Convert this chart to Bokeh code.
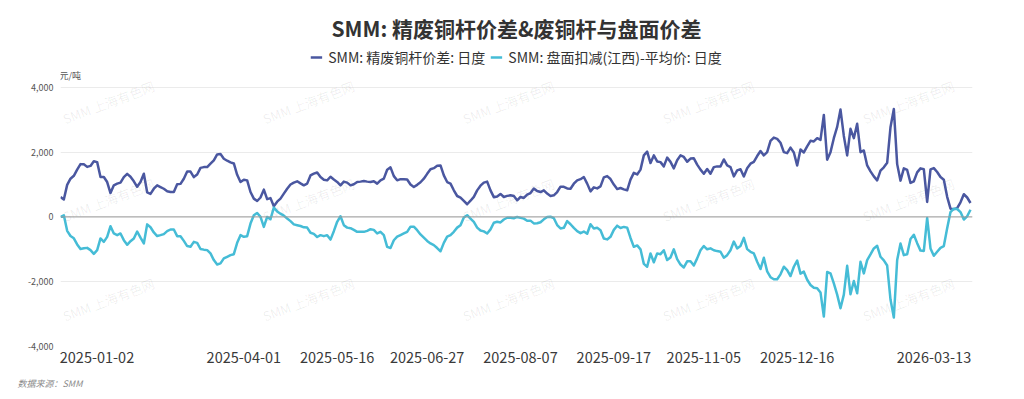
from bokeh.plotting import figure
from bokeh.models import (ColumnDataSource, Range1d, FixedTicker, NumeralTickFormatter,
                          Span, Title, Label, Legend, LegendItem)
from bokeh.embed import file_html
from bokeh.resources import INLINE
from bokeh.core.properties import value

# ---------------- data ----------------
title_text = "SMM: 精废铜杆价差&废铜杆与盘面价差"
name1 = "SMM: 精废铜杆价差: 日度"
name2 = "SMM: 盘面扣减(江西)-平均价: 日度"
unit_text = "元/吨"
source_text = "数据来源：SMM"

tick_labels = ["2025-01-02", "2025-04-01", "2025-05-16", "2025-06-27", "2025-08-07",
               "2025-09-17", "2025-11-05", "2025-12-16", "2026-03-13"]
tick_index = [0, 55, 83, 110, 138, 166, 193, 221, 273]
y_ticks = [-4000, -2000, 0, 2000, 4000]

s1 = [
    615, 540, 990, 1180, 1270, 1460, 1630, 1625, 1545, 1575,
    1720, 1692, 1231, 1231, 1077, 738, 975, 1028, 1058, 1231,
    1330, 1240, 1100, 930, 1080, 1335, 760, 710, 870, 975,
    923, 870, 795, 769, 769, 1006, 1020, 1180, 1400, 1400,
    1230, 1310, 1515, 1538, 1538, 1643, 1745, 1930, 1940, 1795,
    1735, 1685, 1650, 1300, 1077, 1150, 1129, 769, 565, 492,
    600, 843, 550, 580, 330, 470, 565, 720, 870, 1000,
    1060, 1100, 1035, 975, 1028, 1280, 1335, 1370, 1231, 1150,
    1129, 1240, 1155, 1080, 975, 1090, 1060, 975, 1010, 1077,
    1090, 1108, 1090, 1077, 1100, 1028, 1129, 1181, 1458, 1530,
    1260, 1130, 1165, 1165, 1155, 1000, 925, 990, 1070, 1180,
    1330, 1470, 1505, 1580, 1590, 1283, 1077, 1028, 822, 646,
    597, 492, 391, 500, 620, 820, 965, 1060, 1090, 820,
    610, 630, 710, 615, 650, 667, 646, 514, 615, 585,
    689, 738, 874, 800, 769, 822, 720, 646, 667, 769,
    935, 930, 880, 870, 1025, 1130, 1165, 1231, 1028, 790,
    913, 880, 944, 1220, 1260, 1170, 1000, 860, 893, 850,
    822, 1150, 1360, 1310, 1460, 1900, 2015, 1662, 1899, 1714,
    1692, 1560, 1830, 1700, 1500, 1750, 1900, 1850, 1703, 1800,
    1810, 1615, 1460, 1335, 1480, 1335, 1538, 1560, 1560, 1775,
    1590, 1538, 1252, 1437, 1470, 1250, 1500, 1643, 1700, 1880,
    2035, 1900, 2000, 2345, 2450, 2410, 2290, 2000, 1970, 2140,
    1990, 1590, 2080, 1990, 2180, 2350, 2330, 2431, 2380, 3150,
    1766, 2000, 2430, 2780, 3314, 2500, 1899, 2720, 2431, 2874,
    2000, 2052, 1590, 1406, 1252, 1129, 1430, 1530, 1670, 2770,
    3335, 1630, 1120, 1500, 1450, 1050, 1100, 1375, 1500, 1470,
    462, 1468, 1508, 1385, 1231, 1150, 620, 255, 240, 270,
    450, 700, 600, 430,
]

s2 = [
    0, 50, -430, -590, -660, -850, -990, -970, -955, -1025,
    -1140, -1025, -665, -769, -615, -286, -511, -563, -511, -717,
    -860, -750, -665, -450, -640, -818, -230, -320, -480, -590,
    -563, -530, -440, -388, -388, -594, -594, -740, -900, -920,
    -770, -800, -990, -1010, -1025, -1126, -1332, -1470, -1435, -1280,
    -1231, -1180, -1150, -800, -563, -615, -594, -205, 52, 123,
    0, -308, 0, -70, 288, 170, 100, 40, -50, -130,
    -230, -255, -280, -320, -330, -490, -525, -620, -563, -594,
    -563, -700, -440, -150, 21, -255, -330, -347, -400, -461,
    -461, -461, -430, -380, -400, -511, -461, -563, -923, -960,
    -720, -610, -560, -510, -460, -300, -300, -410, -540, -640,
    -740, -818, -870, -960, -1060, -800, -610, -563, -460, -330,
    -255, -20, 52, -52, -154, -330, -420, -445, -510, -385,
    -180, -150, -170, -80, -25, -25, -40, 0, -30, -52,
    -120, -115, -200, -195, -165, -75, 0, 5, -40, -250,
    -355, -337, -130, -225, -340, -440, -500, -450, -520, -225,
    -357, -337, -409, -665, -694, -615, -400, -270, -340, -308,
    -330, -650, -923, -880, -1000, -1450, -1538, -1126, -1400, -1126,
    -1150, -1030, -1332, -1250, -1000, -1300, -1470, -1560, -1370, -1370,
    -1500, -1280, -1030, -900, -1000, -970, -1030, -1055, -1075, -1260,
    -1180, -1030, -760, -972, -900, -646, -994, -1077, -1126, -1385,
    -1609, -1260, -1680, -1860, -1926, -1926, -1772, -1538, -1640, -1825,
    -1538, -1350, -1750, -1690, -1940, -2100, -2185, -2200, -2330, -3077,
    -1700, -1740, -2050, -2400, -2819, -2400, -1508, -2388, -1978, -2357,
    -1385, -1742, -1332, -1157, -972, -892, -1230, -1340, -1500, -2550,
    -3108, -1330, -820, -1180, -1150, -680, -550, -810, -1040, -1050,
    -31, -972, -1200, -1077, -954, -900, -350, 150, 255, 245,
    150, -80, 20, 220,
]

# ---------------- layout ----------------
FONT = "Noto Sans CJK SC"
C1 = "#4a57a0"
C2 = "#45bcd6"
N = min(len(s1), len(s2))
s1, s2 = s1[:N], s2[:N]
xs = list(range(N))

W, H = 1024, 399
PLOT_TOP, PLOT_BOTTOM = 87, 347       # pixel rows of the 4,000 / -4,000 grid lines
ML, MR, MT, MB = 60, 52, 42, 52       # frame also holds the legend band above the data
FW = W - ML - MR                      # 912
UPP = 8000 / (PLOT_BOTTOM - PLOT_TOP) # value units per pixel
YTOP = 4000 + (PLOT_TOP - MT) * UPP
XMAX = (N - 1) + 0.6
PXU = FW / XMAX                       # px per index

def dxr(px):
    return (px - ML) / PXU

def dyr(py):
    return 4000 - (py - PLOT_TOP) * UPP

p = figure(width=W, height=H, output_backend="svg", toolbar_location=None, title=None,
           x_range=Range1d(0, XMAX), y_range=Range1d(-4000, YTOP),
           min_border_left=ML, min_border_right=MR, min_border_top=MT, min_border_bottom=MB)
p.outline_line_color = None
p.background_fill_color = "white"
p.border_fill_color = "white"
p.xgrid.visible = False

# y axis
yt = FixedTicker(ticks=y_ticks)
p.yaxis.ticker = yt
p.yaxis.formatter = NumeralTickFormatter(format="0,0")
p.yaxis.axis_line_color = None
p.yaxis.major_tick_line_color = None
p.yaxis.minor_tick_line_color = None
p.yaxis.major_tick_out = 0
p.yaxis.major_tick_in = 0
p.yaxis.major_label_standoff = 7
p.yaxis.major_label_text_font = FONT
p.yaxis.major_label_text_font_size = "9px"
p.yaxis.major_label_text_color = "#555555"
p.ygrid.ticker = yt
p.ygrid.grid_line_color = "#ebebeb"
p.ygrid.grid_line_width = 1

# x axis: first label starts at the first day, last label ends at the last day
HALF = 36.5 / PXU
pos = []
for i, t in enumerate(tick_index):
    if i == 0:
        pos.append(round(t + HALF, 3))
    elif i == len(tick_index) - 1:
        pos.append(round(min(t, N - 1) - HALF, 3))
    else:
        pos.append(float(t))
p.xaxis.ticker = FixedTicker(ticks=pos)
p.xaxis.major_label_overrides = {v: lab for v, lab in zip(pos, tick_labels)}
p.xaxis.axis_line_color = None
p.xaxis.major_tick_line_color = None
p.xaxis.minor_tick_line_color = None
p.xaxis.major_tick_out = 0
p.xaxis.major_tick_in = 0
p.xaxis.major_label_standoff = 5
p.xaxis.major_label_text_font = FONT
p.xaxis.major_label_text_font_size = "14.5px"
p.xaxis.major_label_text_color = "#3a3a3a"

# watermark
wm_x, wm_y, wm_t = [], [], []
for cy in (102, 200, 300):
    for cx in (108, 308, 508, 708, 908):
        wm_x.append(dxr(cx)); wm_y.append(dyr(cy)); wm_t.append("SMM 上海有色网")
p.text(x=wm_x, y=wm_y, text=wm_t, angle=0.36, text_font=value(FONT),
       text_font_size="13px", text_color="#000000", text_alpha=0.07,
       text_align="center", text_baseline="middle")

p.add_layout(Span(location=0, dimension="width", line_color="#9a9a9a", line_width=1))

src = ColumnDataSource(dict(x=xs, s1=s1, s2=s2))
r1 = p.line("x", "s1", source=src, line_color=C1, line_width=2.5, line_join="round")
r2 = p.line("x", "s2", source=src, line_color=C2, line_width=2.5, line_join="round")

legend = Legend(items=[LegendItem(label=name1, renderers=[r1]),
                       LegendItem(label=name2, renderers=[r2])],
                orientation="horizontal", location="top_center",
                padding=0, margin=5, spacing=5, label_standoff=6,
                glyph_width=12, glyph_height=14, label_height=14,
                label_text_font=FONT, label_text_font_size="14px",
                label_text_color="#333333",
                background_fill_alpha=0, border_line_color=None)
p.add_layout(legend, "center")

p.add_layout(Label(x=dxr(59), y=dyr(75), text=unit_text, text_align="left",
                   text_baseline="middle", text_font=FONT, text_font_size="9px",
                   text_color="#555555"))

p.add_layout(Title(text=title_text, align="center", offset=-3, standoff=0,
                   text_font=FONT, text_font_size="21px", text_font_style="bold",
                   text_color="#333333"), "above")

p.add_layout(Title(text=source_text, align="left", offset=-43, standoff=19,
                   text_font=FONT, text_font_size="9px", text_font_style="italic",
                   text_color="#8c8c8c"), "below")

open("out.html", "w").write(file_html(p, INLINE))
